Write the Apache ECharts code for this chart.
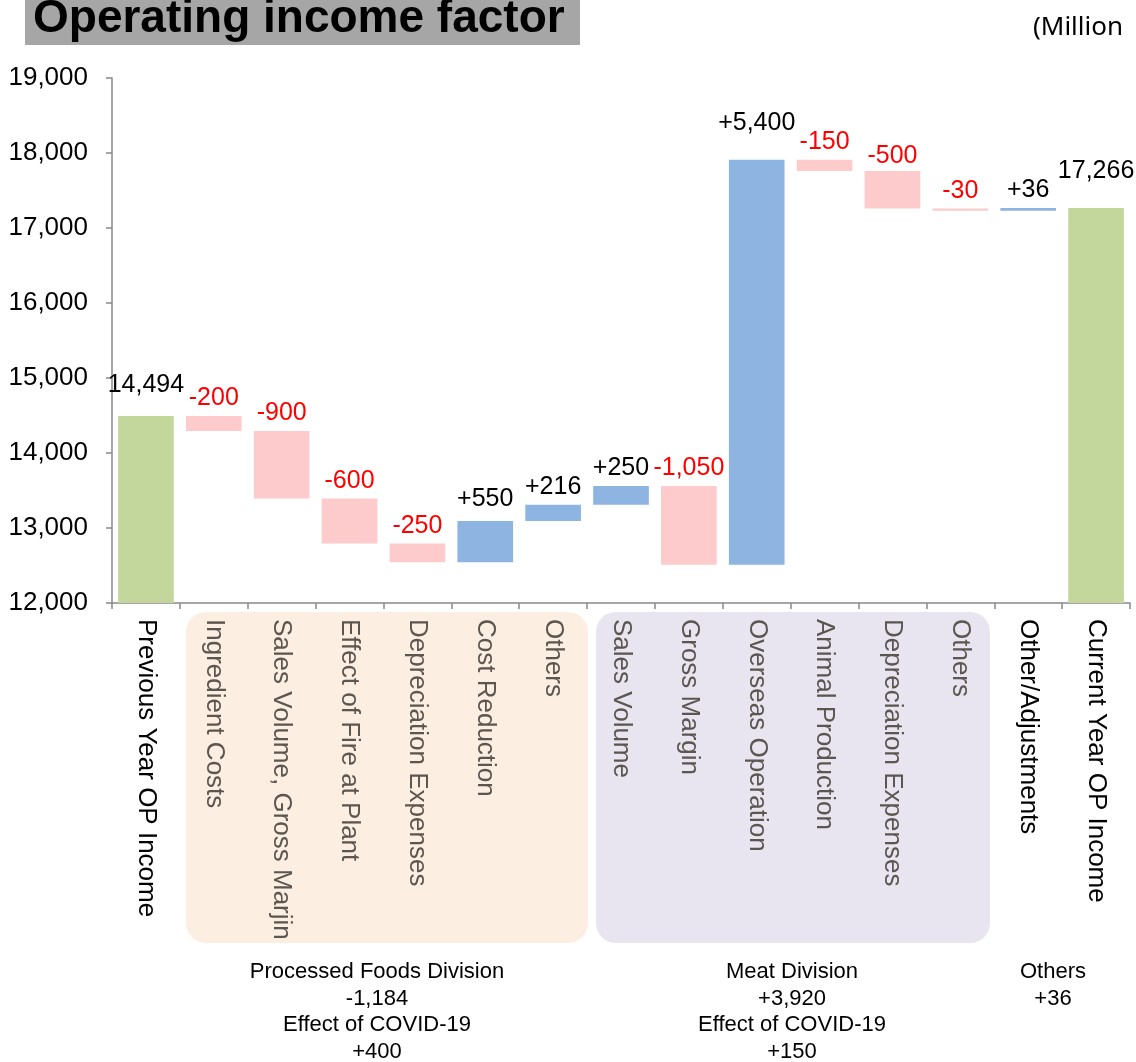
<!DOCTYPE html>
<html>
<head>
<meta charset="utf-8">
<script src="https://cdn.jsdelivr.net/npm/echarts@6/dist/echarts.min.js"></script>
<style>
  html, body { margin: 0; padding: 0; background: #fff; }
  #chart { width: 1136px; height: 1062px; }
</style>
</head>
<body>
<div id="chart"></div>
<script>
var categories = [
    'Previous Year OP Income',
    'Ingredient Costs',
    'Sales Volume, Gross Marjin',
    'Effect of Fire at Plant',
    'Depreciation Expenses',
    'Cost Reduction',
    'Others',
    'Sales Volume',
    'Gross Margin',
    'Overseas Operation',
    'Animal Production',
    'Depreciation Expenses',
    'Others',
    'Other/Adjustments',
    'Current Year OP Income'
];
var startValue = 14494;
var changes = [-200, -900, -600, -250, 550, 216, 250, -1050, 5400, -150, -500, -30, 36];
var endValue = 17266;

var yMin = 12000;
var yMax = 19000;
var yStep = 1000;

var divisionNotes = [
    ['Processed Foods Division', '-1,184', 'Effect of COVID-19', '+400'],
    ['Meat Division', '+3,920', 'Effect of COVID-19', '+150'],
    ['Others', '+36']
];

function fmt(n) {
    return Math.abs(n).toLocaleString('en-US');
}

// waterfall: invisible base + visible piece on top
var baseData = [0];
var barData = [{value: startValue, itemStyle: {color: '#c3d69b'}, label: {formatter: fmt(startValue)}}];
var running = startValue;
for (var i = 0; i < changes.length; i++) {
    var c = changes[i];
    baseData.push(c < 0 ? running + c : running);
    barData.push({
        value: Math.abs(c),
        itemStyle: {color: c < 0 ? '#fdcbcb' : '#8eb4e2'},
        label: {
            formatter: (c < 0 ? '-' : '+') + fmt(c),
            color: c < 0 ? '#ff0000' : '#000'
        }
    });
    running += c;
}
baseData.push(0);
barData.push({value: endValue, itemStyle: {color: '#c3d69b'}, label: {formatter: fmt(endValue)}});

// label gaps a bit uneven in the original
barData[0].label.distance = 18;
barData[5].label.distance = 9;
barData[9].label.distance = 24;
barData[11].label.distance = 2;
barData[14].label.distance = 24;

var blackLabels = [0, 13, 14];
var font = '"Liberation Sans", Arial, sans-serif';

var chart = echarts.init(document.getElementById('chart'));

var option = {
    animation: false,
    grid: {
        left: 112,
        right: 6,
        top: 78,
        bottom: 459
    },
    graphic: [
        {
            type: 'rect',
            z: -10,
            shape: {x: 25, y: 0, width: 555, height: 45},
            style: {fill: '#a6a6a6'}
        },
        {
            type: 'text',
            z: 10,
            x: 33,
            y: 19,
            style: {
                text: 'Operating income factor',
                font: 'bold 46px ' + font,
                fill: '#000',
                verticalAlign: 'middle'
            }
        },
        {
            type: 'text',
            x: 1033,
            y: 28,
            style: {
                text: '(Million',
                font: '26px "Noto Sans", sans-serif',
                fill: '#000',
                verticalAlign: 'middle'
            }
        },
        {
            type: 'rect',
            z: -10,
            shape: {x: 186, y: 612, width: 402, height: 331, r: 20},
            style: {fill: '#fdeee2'}
        },
        {
            type: 'rect',
            z: -10,
            shape: {x: 596, y: 612, width: 394, height: 331, r: 20},
            style: {fill: '#e8e5f0'}
        },
        {
            type: 'text',
            x: 377,
            y: 959,
            style: {
                text: divisionNotes[0].join('\n'),
                font: '22px ' + font,
                lineHeight: 26.5,
                fill: '#000',
                align: 'center'
            }
        },
        {
            type: 'text',
            x: 792,
            y: 959,
            style: {
                text: divisionNotes[1].join('\n'),
                font: '22px ' + font,
                lineHeight: 26.5,
                fill: '#000',
                align: 'center'
            }
        },
        {
            type: 'text',
            x: 1053,
            y: 959,
            style: {
                text: divisionNotes[2].join('\n'),
                font: '22px ' + font,
                lineHeight: 26.5,
                fill: '#000',
                align: 'center'
            }
        }
    ],
    xAxis: {
        type: 'category',
        data: categories,
        axisLine: {lineStyle: {color: '#898989', width: 1.5}},
        axisTick: {show: true, length: 6, lineStyle: {color: '#898989', width: 1.5}},
        axisLabel: {
            interval: 0,
            rotate: -90,
            margin: 16,
            fontSize: 26,
            fontFamily: font,
            color: function (value, index) {
                return blackLabels.indexOf(index) >= 0 ? '#000' : '#5c5650';
            }
        }
    },
    yAxis: {
        type: 'value',
        min: yMin,
        max: yMax,
        interval: yStep,
        axisLine: {show: true, lineStyle: {color: '#898989', width: 1.5}},
        axisTick: {show: true, length: 6, lineStyle: {color: '#898989', width: 1.5}},
        splitLine: {show: false},
        axisLabel: {
            margin: 24,
            fontSize: 26,
            color: '#000',
            fontFamily: font,
            formatter: function (v) { return v.toLocaleString('en-US'); }
        }
    },
    series: [
        {
            type: 'bar',
            stack: 'wf',
            silent: true,
            itemStyle: {color: 'transparent'},
            data: baseData,
            barCategoryGap: '18%'
        },
        {
            type: 'bar',
            stack: 'wf',
            data: barData,
            barCategoryGap: '18%',
            label: {
                show: true,
                position: 'top',
                distance: 5,
                fontSize: 25,
                color: '#000',
                fontFamily: font
            }
        }
    ]
};

chart.setOption(option);
</script>
</body>
</html>
